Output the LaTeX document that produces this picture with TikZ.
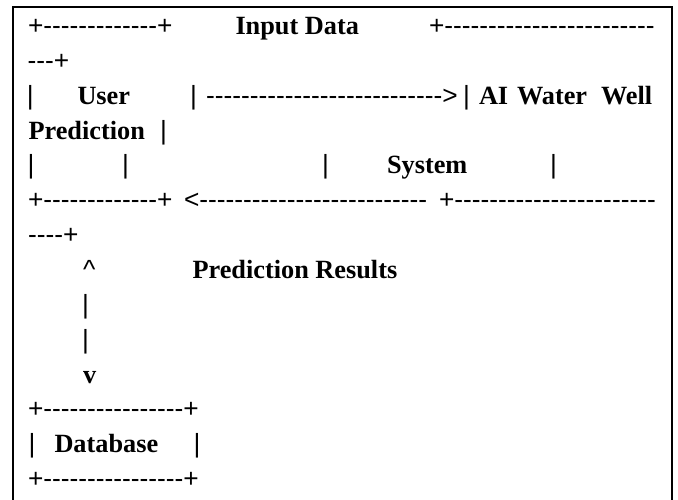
\documentclass[tikz,border=0pt]{standalone}
\usepackage{fontspec}
\setmainfont{Liberation Serif}
\newfontfamily\symfont[Ligatures=TeXOff]{Liberation Sans}
\ExplSyntaxOn
\NewDocumentCommand\dashrow{m}{\prg_replicate:nn{#1}{-}}
\ExplSyntaxOff
\begin{document}
\begin{tikzpicture}[x=1pt,y=-1pt,
  txt/.style={anchor=base west,inner sep=0pt,outer sep=0pt,
    font=\fontsize{26.3}{30}\selectfont},
  sym/.style={txt,font=\fontsize{26.3}{30}\selectfont\symfont},
  wrd/.style={txt,font=\fontsize{26.3}{30}\selectfont\bfseries},
  frame/.style={line width=1.4pt}]
\useasboundingbox (0,0) rectangle (678,500);
% page frame, open at the bottom
\draw[frame] (13,520) -- (13,7) -- (672,7) -- (672,520);
% baselines of the fourteen text rows
\def\rowpitch{34.85}
\foreach \r in {1,...,14}{\coordinate (row\r) at (0,{34.5+(\r-1)*\rowpitch});}
% row 1
\node[sym] (r1a) at (28,0 |- row1) {+\dashrow{13}+};
\node[wrd] (r1b) at (235.5,0 |- row1) {Input Data};
\node[sym] (r1c) at (429,0 |- row1) {+\dashrow{24}};
% row 2
\node[sym] (r2a) at (27.5,0 |- row2) {---+};
% row 3
\node[sym] (r3a) at (27,0 |- row3) {|};
\node[wrd] (r3b) at (77.5,0 |- row3) {User};
\node[sym] (r3c) at (190,0 |- row3) {|};
\node[sym] (r3d) at (206,0 |- row3) {\dashrow{27}>};
\node[sym] (r3e) at (463,0 |- row3) {|};
\node[wrd] (r3f) at (479,0 |- row3) {AI};
\node[wrd] (r3g) at (517,0 |- row3) {Water};
\node[wrd] (r3h) at (601,0 |- row3) {Well};
% row 4
\node[wrd] (r4a) at (28.5,0 |- row4) {Prediction};
\node[sym] (r4b) at (160,0 |- row4) {|};
% row 5
\node[sym] (r5a) at (27.5,0 |- row5) {|};
\node[sym] (r5b) at (122,0 |- row5) {|};
\node[sym] (r5c) at (322,0 |- row5) {|};
\node[wrd] (r5d) at (387,0 |- row5) {System};
\node[sym] (r5e) at (550,0 |- row5) {|};
% row 6
\node[sym] (r6a) at (28,0 |- row6) {+\dashrow{13}+};
\node[sym] (r6b) at (184,0 |- row6) {<\dashrow{26}};
\node[sym] (r6c) at (439,0 |- row6) {+\dashrow{23}};
% row 7
\node[sym] (r7a) at (28,0 |- row7) {----+};
% row 8
\node[sym] (r8a) at (83,0 |- row8) {\char`\^};
\node[wrd] (r8b) at (192.5,0 |- row8) {Prediction Results};
% rows 9 to 11
\node[sym] (r9a) at (82,0 |- row9) {|};
\node[sym] (r10a) at (82,0 |- row10) {|};
\node[wrd] (r11a) at (83,0 |- row11) {v};
% rows 12 to 14
\node[sym] (r12a) at (28,0 |- row12) {+\dashrow{16}+};
\node[sym] (r13a) at (28.5,0 |- row13) {|};
\node[wrd] (r13b) at (54.5,0 |- row13) {Database};
\node[sym] (r13c) at (193.5,0 |- row13) {|};
\node[sym] (r14a) at (28,0 |- row14) {+\dashrow{16}+};
\end{tikzpicture}
\end{document}
